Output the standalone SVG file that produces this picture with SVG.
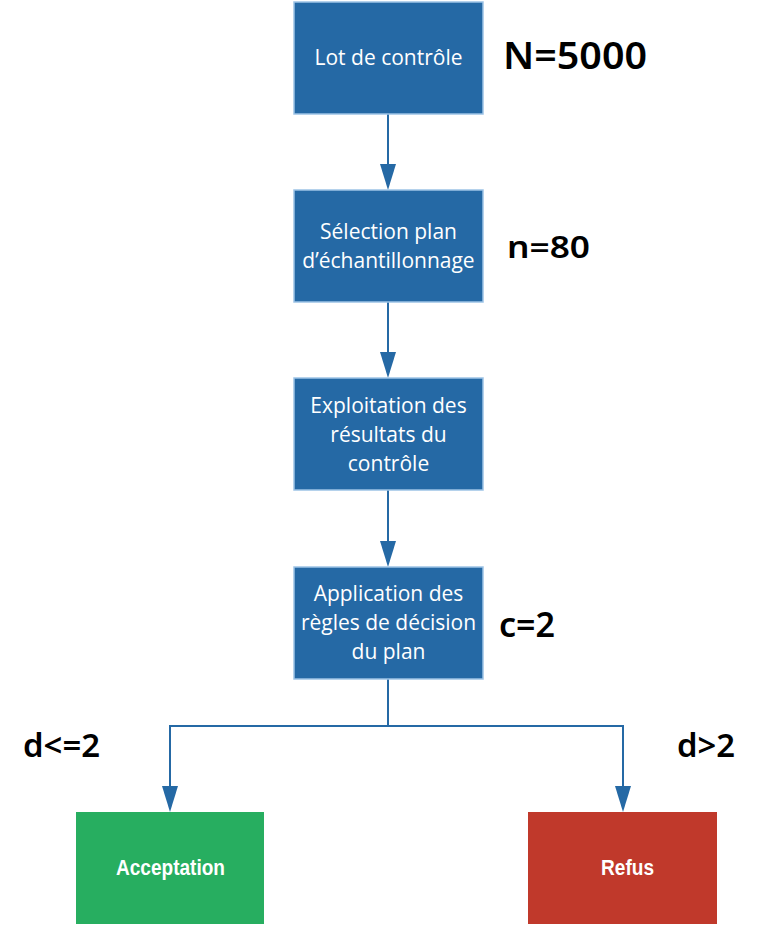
<svg xmlns="http://www.w3.org/2000/svg" width="757" height="926" viewBox="0 0 757 926">
<defs>
<style>
.box{fill:#2569A5;stroke:#9DC3E6;stroke-width:1.5}
.bt{font-family:"Open Sans","Liberation Sans",sans-serif;font-size:21px;fill:#fff;text-anchor:middle}
.lab{font-family:"Noto Sans","Liberation Sans",sans-serif;font-weight:600;fill:#000}
.res{font-family:"Liberation Sans",sans-serif;font-size:22px;font-weight:bold;fill:#fff}
.con{fill:none;stroke:#2569A5;stroke-width:2}
.ah{fill:#2569A5}
</style>
</defs>
<rect width="757" height="926" fill="#fff"/>
<g id="connectors">
<line class="con" x1="388" y1="114" x2="388" y2="164"/>
<path class="ah" d="M380,164 L396,164 L388,190 Z"/>
<line class="con" x1="388" y1="302" x2="388" y2="352"/>
<path class="ah" d="M380,352 L396,352 L388,378 Z"/>
<line class="con" x1="388" y1="490" x2="388" y2="541"/>
<path class="ah" d="M380,541 L396,541 L388,567 Z"/>
<path class="con" d="M388,679 V726 H170 V786"/>
<path class="con" d="M388,726 H623 V786"/>
<path class="ah" d="M162,786 L178,786 L170,812 Z"/>
<path class="ah" d="M615,786 L631,786 L623,812 Z"/>
</g>
<g id="n1">
<rect class="box" x="294" y="2" width="189" height="112"/>
<text class="bt" x="388.5" y="65">Lot de contrôle</text>
</g>
<g id="n2">
<rect class="box" x="294" y="190" width="189" height="112"/>
<text class="bt" x="388.5" y="239">Sélection plan</text>
<text class="bt" x="388.5" y="268">d’échantillonnage</text>
</g>
<g id="n3">
<rect class="box" x="294" y="378" width="189" height="112"/>
<text class="bt" x="388.5" y="413">Exploitation des</text>
<text class="bt" x="388.5" y="442">résultats du</text>
<text class="bt" x="388.5" y="471">contrôle</text>
</g>
<g id="n4">
<rect class="box" x="294" y="567" width="189" height="112"/>
<text class="bt" x="388.5" y="601">Application des</text>
<text class="bt" x="388.5" y="630">règles de décision</text>
<text class="bt" x="388.5" y="659">du plan</text>
</g>
<g id="n5">
<rect x="76" y="812" width="188" height="112" fill="#27AE60"/>
<text class="res" x="116" y="875" textLength="109" lengthAdjust="spacingAndGlyphs">Acceptation</text>
</g>
<g id="n6">
<rect x="528" y="812" width="189" height="112" fill="#C0392B"/>
<text class="res" x="601" y="875" textLength="53" lengthAdjust="spacingAndGlyphs">Refus</text>
</g>
<g id="labels">
<text class="lab" x="503" y="69" font-size="37" textLength="144" lengthAdjust="spacingAndGlyphs">N=5000</text>
<text class="lab" x="507" y="258" font-size="31" textLength="83" lengthAdjust="spacingAndGlyphs">n=80</text>
<text class="lab" x="499" y="637" font-size="34" textLength="56" lengthAdjust="spacingAndGlyphs">c=2</text>
<text class="lab" x="23" y="757" font-size="33" textLength="77" lengthAdjust="spacingAndGlyphs">d&lt;=2</text>
<text class="lab" x="677" y="757" font-size="33" textLength="58" lengthAdjust="spacingAndGlyphs">d&gt;2</text>
</g>
</svg>
